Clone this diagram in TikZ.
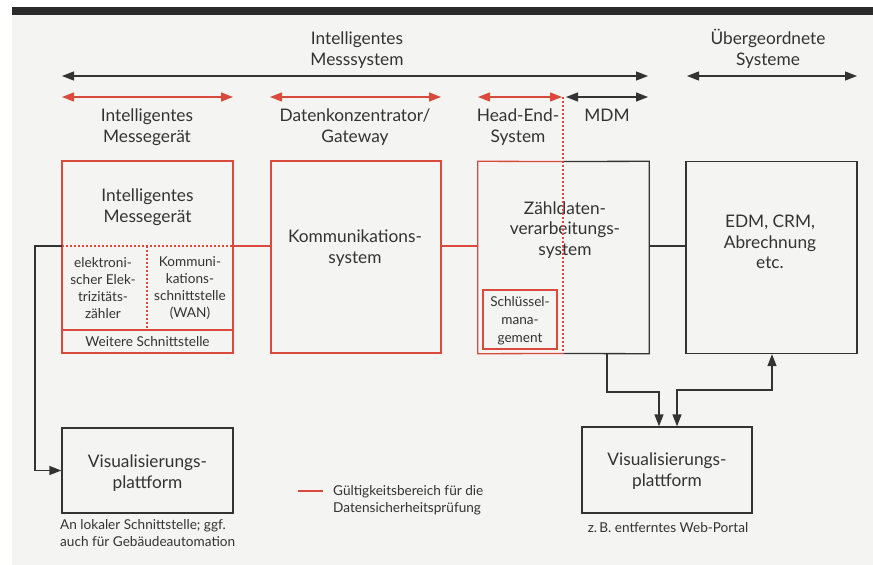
\documentclass[tikz,border=0pt]{standalone}
\usepackage{fontspec}
\setmainfont{Lato}
\usetikzlibrary{arrows.meta}
\definecolor{rd}{HTML}{D94A3D}
\definecolor{ink}{HTML}{333333}
\definecolor{paper}{HTML}{F4F4F2}
\definecolor{bar}{HTML}{2A2A2A}
\begin{document}
\begin{tikzpicture}[x=1pt,y=-1pt,
  line/.style={line width=1.3pt, draw=ink},
  rline/.style={line width=1.3pt, draw=rd},
  rdot/.style={line width=1.1pt, draw=rd, dash pattern=on 2pt off 2pt},
  box/.style={line, rectangle, inner sep=0pt},
  rbox/.style={rline, rectangle, inner sep=0pt},
  hidden/.style={rectangle, inner sep=0pt},
  txt/.style={font=\fontsize{17.3}{20.5}\selectfont, text=ink, align=center, inner sep=0pt},
  stxt/.style={font=\fontsize{13.6}{17}\selectfont, text=ink, align=center, inner sep=0pt},
  tip/.style={-{Triangle[length=12pt,width=9pt]}},
  dtip/.style={{Triangle[length=12pt,width=9pt]}-{Triangle[length=12pt,width=9pt]}},
]
\useasboundingbox (0,0) rectangle (873,565);
\fill[white] (0,0) rectangle (873,565);
\fill[paper] (12,15) rectangle (873,565);
\fill[bar] (12,7) rectangle (873,15);

% top scope labels
\node[txt] (tIMS) at (357,50) {Intelligentes\\Messsystem};
\node[txt] (tUS) at (768,49) {Übergeordnete\\Systeme};
\coordinate (aL) at (62,76); \coordinate (aR) at (648,76);
\draw[line, dtip] (aL) -- (aR);
\coordinate (uL) at (687,76); \coordinate (uR) at (857,76);
\draw[line, dtip] (uL) -- (uR);

\coordinate (r1L) at (62,97); \coordinate (r1R) at (233,97);
\coordinate (r2L) at (270,97); \coordinate (r2R) at (441,97);
\coordinate (r3L) at (478,97); \coordinate (r3R) at (562,97);
\coordinate (mL) at (566,97); \coordinate (mR) at (648,97);
\draw[rline, dtip, fill=rd] (r1L) -- (r1R);
\draw[rline, dtip, fill=rd] (r2L) -- (r2R);
\draw[rline, dtip, fill=rd] (r3L) -- (r3R);
\draw[line, dtip, fill=ink] (mL) -- (mR);

\node[txt] (lIM) at (147,127) {Intelligentes\\Messegerät};
\node[txt] (lDK) at (355,127) {Datenkonzentrator/\\Gateway};
\node[txt] (lHE) at (518,127) {Head-End-\\System};
\node[txt] (lMDM) at (607,115) {MDM};

% main boxes
\node[rbox, minimum width=171pt, minimum height=192pt] (mg) at (147.5,257) {};
\node[txt] (mgT) at (147.5,207) {Intelligentes\\Messegerät};
\coordinate (mgD) at (62,246); \coordinate (mgDr) at (233,246);
\coordinate (mgV1) at (147,246); \coordinate (mgV2) at (147,330);
\coordinate (mgS) at (62,330); \coordinate (mgSr) at (233,330);
\draw[rdot] (mgD) -- (mgDr);
\draw[rdot] (mgV1) -- (mgV2);
\draw[rline] (mgS) -- (mgSr);
\node[stxt] (ez) at (103,288) {elektroni-\\scher Elek-\\trizitäts-\\zähler};
\node[stxt] (ks) at (190,288) {Kommuni-\\kations-\\schnittstelle\\(WAN)};
\node[stxt] (ws) at (147.5,342) {Weitere Schnittstelle};

\node[rbox, minimum width=170pt, minimum height=192pt] (ks2) at (356,257) {};
\node[txt] (ks2T) at (355,248) {Kommunikations-\\system};

\node[hidden, minimum width=171pt, minimum height=192pt] (zd) at (563.5,257.5) {};
\coordinate (zdTm) at (563,161.5); \coordinate (zdBm) at (563,353.5);
\draw[rline] (zdTm) -- (zd.north west) -- (zd.south west) -- (zdBm);
\draw[line] (zdTm) -- (zd.north east) -- (zd.south east) -- (zdBm);
\node[txt] (zdT) at (565,230) {Zähldaten-\\verarbeitungs-\\system};
\node[rbox, minimum width=74pt, minimum height=59pt] (sm) at (520,319.5) {};
\node[stxt, font=\fontsize{13.6}{18}\selectfont] (smT) at (520,321) {Schlüssel-\\mana-\\gement};
\coordinate (vTop) at (563,97);
\draw[rdot] (vTop) -- (zdBm);

\node[box, minimum width=171pt, minimum height=192pt] (edm) at (771.5,257.5) {};
\node[txt] (edmT) at (770,242) {EDM, CRM,\\Abrechnung\\etc.};

% connectors between boxes
\draw[rline] (mgDr) -- (mgDr -| ks2.west);
\draw[rline] (ks2.east |- mgDr) -- (zd.west |- mgDr);
\draw[line] (zd.east |- mgDr) -- (edm.west |- mgDr);

% visualisation boxes
\node[box, minimum width=171pt, minimum height=85pt] (v1) at (147.5,470.5) {};
\node[txt] (v1T) at (147.5,473) {Visualisierungs-\\plattform};
\node[stxt, align=left, anchor=north west] (v1C) at (60,519) {An lokaler Schnittstelle; ggf.\\auch für Gebäudeautomation};

\node[box, minimum width=170pt, minimum height=86pt] (v2) at (667,470) {};
\node[txt] (v2T) at (667,471) {Visualisierungs-\\plattform};
\node[stxt] (v2C) at (668,528) {z.\,B. entferntes Web-Portal};

\coordinate (k1) at (35,246);
\draw[line, tip] (mgD) -- (k1) |- (v1.west);

\coordinate (z1) at (607,354);
\coordinate (z2) at (607,392);
\coordinate (z3) at (659,392);
\draw[line, tip] (z1) -- (z2) -- (z3) -- (z3 |- v2.north);
\coordinate (e1) at (677,390);
\coordinate (e2) at (772,390);
\draw[line, dtip] (e1 |- v2.north) -- (e1) -- (e2) -- (e2 |- edm.south);

% legend
\coordinate (lg1) at (298,491); \coordinate (lg2) at (323,491);
\draw[rline] (lg1) -- (lg2);
\node[stxt, align=left, anchor=west] (lgT) at (333,500) {Gültigkeitsbereich für die\\Datensicherheitsprüfung};
\end{tikzpicture}
\end{document}
